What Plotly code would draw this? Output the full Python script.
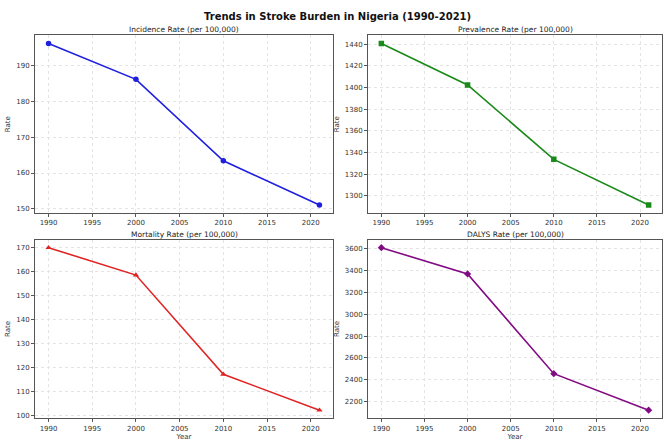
import plotly.graph_objects as go
from plotly.subplots import make_subplots

years = [1990, 2000, 2010, 2021]
incidence = [196.1, 186.1, 163.4, 151.1]
prevalence = [1440.6, 1402.3, 1333.6, 1291.5]
mortality = [170.0, 158.6, 117.3, 102.4]
dalys = [3610, 3370, 2456, 2122]

titles = ["Incidence Rate (per 100,000)", "Prevalence Rate (per 100,000)",
          "Mortality Rate (per 100,000)", "DALYS Rate (per 100,000)"]
ytick_sets = [
    [150, 160, 170, 180, 190],
    [1300, 1320, 1340, 1360, 1380, 1400, 1420, 1440],
    [100, 110, 120, 130, 140, 150, 160, 170],
    [2200, 2400, 2600, 2800, 3000, 3200, 3400, 3600],
]
year_ticks = [1990, 1995, 2000, 2005, 2010, 2015, 2020]
series = [incidence, prevalence, mortality, dalys]
colors = ["#1f1fe0", "#1a8a1a", "#e02424", "#820a82"]
symbols = ["circle", "square", "triangle-up", "diamond"]
positions = [(1, 1), (1, 2), (2, 1), (2, 2)]

W, H = 665, 441
fig = make_subplots(rows=2, cols=2)

# panel boxes in pixel terms, converted to paper fractions
xdom = [[35 / W, 333 / W], [368 / W, 662 / W]]
ydom = [[(H - 217) / H, (H - 36) / H], [(H - 426) / H, (H - 244) / H]]

font = "DejaVu Sans, Liberation Sans, sans-serif"
tick_font = dict(size=7, color="#333", family=font)
grid_color = "#e4e4e4"

for i, (vals, col, sym, (r, c)) in enumerate(zip(series, colors, symbols, positions)):
    fig.add_trace(go.Scatter(
        x=years, y=vals, mode="lines+markers",
        line=dict(color=col, width=1.6),
        marker=dict(symbol=sym, size=5.5, color=col),
        showlegend=False), row=r, col=c)
    lo, hi = min(vals), max(vals)
    pad = (hi - lo) * 0.05
    fig.update_xaxes(row=r, col=c, domain=xdom[c - 1], range=[1988.45, 2022.55],
                     tickvals=year_ticks,
                     showgrid=True, gridcolor=grid_color, griddash="dot", gridwidth=1,
                     showline=True, linecolor="#555", linewidth=1, mirror=True,
                     ticks="outside", ticklen=3, tickcolor="#555",
                     tickfont=tick_font, zeroline=False,
                     title=dict(text="Year" if r == 2 else "",
                                font=dict(size=7, color="#333", family=font), standoff=3))
    fig.update_yaxes(row=r, col=c, domain=ydom[r - 1], range=[lo - pad, hi + pad],
                     tickvals=ytick_sets[i],
                     showgrid=True, gridcolor=grid_color, griddash="dot", gridwidth=1,
                     showline=True, linecolor="#555", linewidth=1, mirror=True,
                     ticks="outside", ticklen=3, tickcolor="#555",
                     tickfont=tick_font, zeroline=False,
                     title=dict(text="Rate", font=dict(size=7, color="#333", family=font), standoff=4))
    fig.add_annotation(text=titles[i], xref="paper", yref="paper",
                       x=sum(xdom[c - 1]) / 2, y=ydom[r - 1][1], yanchor="bottom",
                       xanchor="center", yshift=-1, showarrow=False,
                       font=dict(size=7.5, color="#222", family=font))

fig.add_annotation(text="<b>Trends in Stroke Burden in Nigeria (1990-2021)</b>",
                   xref="paper", yref="paper", x=337.5 / W, y=(H - 17) / H,
                   xanchor="center", yanchor="middle", showarrow=False,
                   font=dict(size=10, color="#111", family=font))

fig.update_layout(width=W, height=H, margin=dict(l=0, r=0, t=0, b=0),
                  plot_bgcolor="white", paper_bgcolor="white")

fig.write_html("out.html")
